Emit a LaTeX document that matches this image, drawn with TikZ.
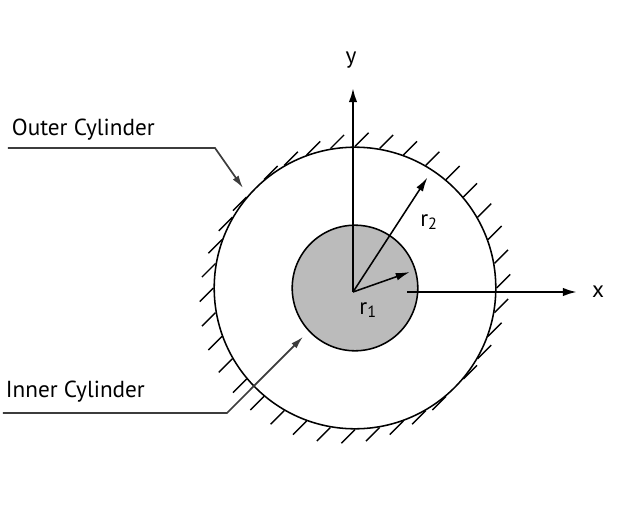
\documentclass[tikz,border=0pt]{standalone}
\usepackage{fontspec}
\setmainfont{PT Sans}
\usetikzlibrary{arrows.meta, positioning, calc}
\definecolor{coregray}{RGB}{187, 187, 187}
\definecolor{leadgray}{RGB}{60, 60, 60}

\begin{document}
\begin{tikzpicture}[
  axis/.style={line width=1.6pt, -{Latex[length=10pt, width=6pt]}},
  radarrow/.style={line width=1.1pt, -{Latex[length=10pt, width=5.5pt]}},
  leader/.style={line width=1.2pt, leadgray, -{Latex[length=9pt, width=5pt]}},
  hatch/.style={line width=1pt},
  lab/.style={font=\fontsize{16.5}{19}\selectfont}
]
  \useasboundingbox (-8.875, -5.5) rectangle (7.125, 7.2);

  % Cylinders
  \node[circle, draw, line width=1.1pt, minimum size=7.04cm, inner sep=0pt] (outer) at (0, 0) {};
  \node[circle, draw, line width=1.1pt, fill=coregray, minimum size=3.14cm, inner sep=0pt] (inner) at (0, 0) {};

  % Hatching on the fixed outer wall
  \foreach \a [evaluate=\a as \s using {(cos(\a)+sin(\a) > 0) ? 0.34 : -0.34}] in {0, 10, ..., 350} {
    \draw[hatch] (outer.\a) -- ++(\s, \s);
  }

  % Axes
  \coordinate (O) at (-0.05, -0.1);
  \coordinate (ytip) at (-0.05, 5.0);
  \coordinate (xstart) at (1.3, -0.1);
  \coordinate (xtip) at (5.55, -0.1);
  \draw[axis] (O) -- (ytip);
  \draw[axis] (xstart) -- (xtip);
  \node[lab] (ylab) at (-0.1, 5.7) {y};
  \node[lab] (xlab) at (6.08, -0.08) {x};

  % Radii
  \coordinate (r1tip) at (1.37, 0.4);
  \coordinate (r2tip) at (1.81, 2.76);
  \draw[radarrow] (O) -- (r1tip);
  \draw[radarrow] (O) -- (r2tip);
  \node[lab] (r1lab) at (0.33, -0.55) {r\textsubscript{1}};
  \node[lab] (r2lab) at (1.85, 1.65) {r\textsubscript{2}};

  % Labels with leaders
  \node[lab, anchor=west] (outerlab) at (-8.7, 3.95) {Outer Cylinder};
  \coordinate (outerstart) at (-8.68, 3.5);
  \coordinate (outerbend) at (-3.5, 3.5);
  \coordinate (outertip) at (-2.8, 2.5);
  \draw[leader] (outerstart) -- (outerbend) -- (outertip);

  \node[lab, anchor=west] (innerlab) at (-8.85, -2.6) {Inner Cylinder};
  \coordinate (innerstart) at (-8.8, -3.125);
  \coordinate (innerbend) at (-3.2, -3.125);
  \coordinate (innertip) at (-1.3, -1.22);
  \draw[leader] (innerstart) -- (innerbend) -- (innertip);
\end{tikzpicture}
\end{document}
